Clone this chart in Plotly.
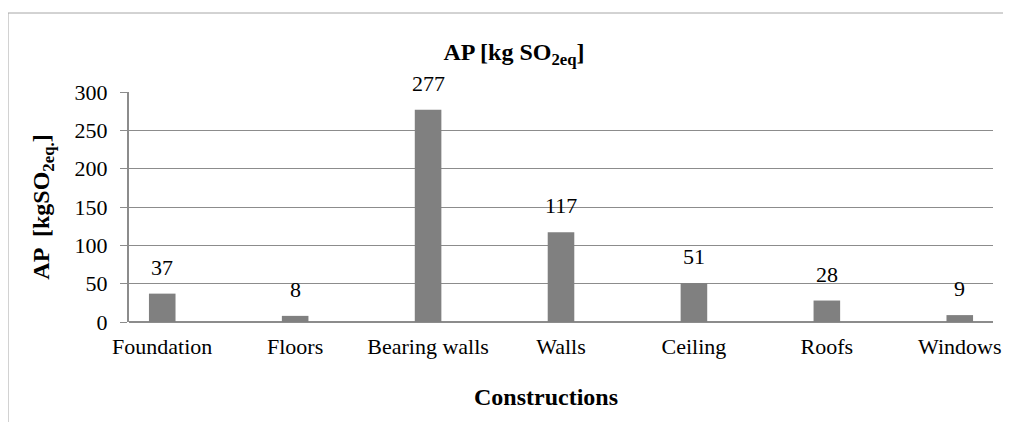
import plotly.graph_objects as go

categories = ["Foundation", "Floors", "Bearing walls", "Walls", "Ceiling", "Roofs", "Windows"]
values = [37, 8, 277, 117, 51, 28, 9]
y_ticks = [0, 50, 100, 150, 200, 250, 300]

FONT = "Liberation Serif, Times New Roman, serif"
OFF = 8  # default page body margin
W, H = 1011 - OFF, 422 - OFF
# plot area in reference pixels: x 129..993, y 92..322
L, R, T, B = 129 - OFF, 1011 - 993, 92 - OFF, 422 - 322
pw, ph = W - L - R, H - T - B

def px_to_paper_x(px):
    return (px - OFF - L) / pw

def px_to_paper_y(py):
    return (H - B - (py - OFF)) / ph

fig = go.Figure()
fig.add_trace(go.Bar(
    x=list(range(len(categories))),
    y=values,
    width=0.2,
    marker=dict(color="#808080", line=dict(width=0)),
    showlegend=False,
    hoverinfo="x+y",
))

annotations = []
for i, v in enumerate(values):
    annotations.append(dict(
        x=i, y=v, xref="x", yref="y", text=str(v), showarrow=False,
        yanchor="bottom", yshift=12, font=dict(family=FONT, size=22, color="#000000"),
    ))

annotations.append(dict(
    x=px_to_paper_x(546), y=px_to_paper_y(397), xref="paper", yref="paper",
    text="<b>Constructions</b>", showarrow=False, xanchor="center", yanchor="middle",
    font=dict(family=FONT, size=24, color="#000000"),
))

fig.update_layout(
    width=W, height=H,
    margin=dict(l=L, r=R, t=T, b=B, autoexpand=False),
    paper_bgcolor="#ffffff", plot_bgcolor="#ffffff",
    font=dict(family=FONT, size=22, color="#000000"),
    title=dict(
        text="<b>AP [kg SO<sub>2eq</sub>]</b>",
        x=(514 - OFF) / W, xanchor="center", y=1 - (52 - OFF) / H, yanchor="middle",
        font=dict(family=FONT, size=24, color="#000000"),
    ),
    xaxis=dict(
        range=[-0.25, 6.25],
        tickmode="array", tickvals=list(range(len(categories))), ticktext=categories,
        showgrid=False, zeroline=False,
        showline=False, ticks="",
        ticklabelstandoff=9,
        tickfont=dict(family=FONT, size=22, color="#000000"),
        fixedrange=True,
    ),
    yaxis=dict(
        range=[0, 300],
        tickmode="array", tickvals=y_ticks,
        showgrid=True, gridcolor="#8c8c8c", gridwidth=1,
        zeroline=True, zerolinecolor="#8c8c8c", zerolinewidth=2,
        showline=True, linecolor="#8c8c8c", linewidth=2,
        ticks="outside", ticklen=7, tickcolor="#8c8c8c", tickwidth=1,
        ticklabelstandoff=8,
        tickfont=dict(family=FONT, size=22, color="#000000"),
        title=dict(text="<b>AP  [kgSO<sub>2eq.</sub>]</b>", standoff=18,
                   font=dict(family=FONT, size=24, color="#000000")),
        fixedrange=True,
    ),
    annotations=annotations,
    shapes=[dict(
        type="rect", xref="paper", yref="paper",
        x0=px_to_paper_x(8), x1=px_to_paper_x(1030),
        y0=px_to_paper_y(440), y1=px_to_paper_y(13),
        line=dict(color="#a6a6a6", width=1), fillcolor="rgba(0,0,0,0)", layer="below",
    )],
)

fig.write_html("out.html")
